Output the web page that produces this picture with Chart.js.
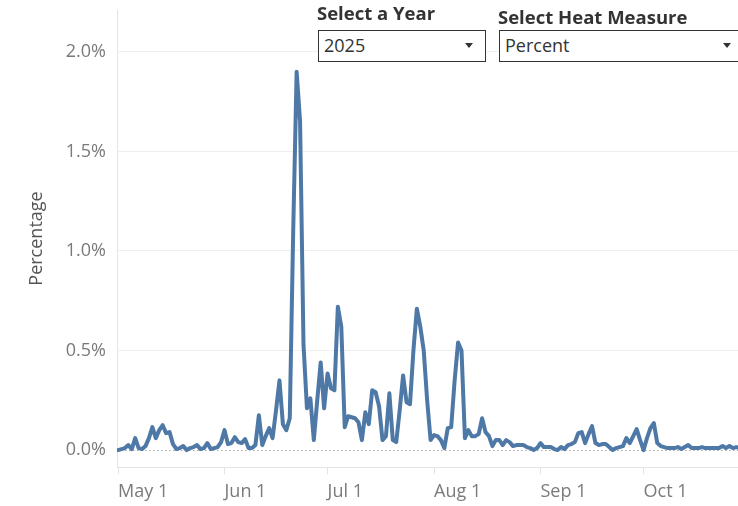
<!DOCTYPE html>
<html>
<head>
<meta charset="utf-8">
<script src="https://cdn.jsdelivr.net/npm/chart.js@4.4.1/dist/chart.umd.min.js"></script>
<style>
  html, body { margin: 0; padding: 0; background: #fff; }
  #wrap { position: relative; width: 738px; height: 506px; overflow: hidden; font-family: 'Open Sans', sans-serif; }
  #chart { position: absolute; left: 0; top: 0; }
  .param-title { position: absolute; font-weight: 700; font-size: 18.5px; line-height: 18.5px; color: #333; white-space: nowrap; }
  .param-box { position: absolute; top: 30px; height: 32px; box-sizing: border-box; border: 1.5px solid #333;
               background: #fff; font-size: 18px; line-height: 29px; color: #333; padding-left: 5px; }
  .caret { position: absolute; top: 12px; width: 0; height: 0; border-left: 4px solid transparent;
           border-right: 4px solid transparent; border-top: 5px solid #333; }
</style>
</head>
<body>
<div id="wrap">
  <canvas id="chart" width="738" height="506"></canvas>
  <div class="param-title" style="left:317px; top:4px;">Select a Year</div>
  <div class="param-box" style="left:318px; width:168px;">2025<div class="caret" style="right:12px;"></div></div>
  <div class="param-title" style="left:498px; top:8px;">Select Heat Measure</div>
  <div class="param-box" style="left:499px; width:246px;">Percent<div class="caret" style="right:13px;"></div></div>
</div>
<script>
// дневные значения, % (с 1 мая 2025)
const valuesMay = [0.0, 0.005, 0.01, 0.025, 0.005, 0.06, 0.01, 0.005, 0.02, 0.06, 0.115, 0.06, 0.1, 0.125, 0.085,
    0.09, 0.03, 0.005, 0.01, 0.02, 0.0, 0.01, 0.015, 0.025, 0.005, 0.01, 0.035, 0.005, 0.01, 0.015, 0.04];
const valuesJun = [0.1, 0.03, 0.035, 0.065, 0.04, 0.035, 0.055, 0.01, 0.01, 0.025, 0.175, 0.025, 0.07, 0.11, 0.06,
    0.2, 0.35, 0.13, 0.1, 0.16, 1.1, 1.9, 1.65, 0.53, 0.21, 0.26, 0.05, 0.25, 0.44, 0.21];
const valuesJul = [0.385, 0.31, 0.3, 0.72, 0.62, 0.115, 0.17, 0.165, 0.16, 0.14, 0.05, 0.19, 0.13, 0.3, 0.29,
    0.22, 0.05, 0.07, 0.285, 0.05, 0.04, 0.2, 0.375, 0.24, 0.23, 0.5, 0.71, 0.62, 0.5, 0.25, 0.05];
const valuesAug = [0.075, 0.07, 0.05, 0.01, 0.11, 0.115, 0.35, 0.54, 0.5, 0.06, 0.1, 0.07, 0.07, 0.08, 0.16,
    0.09, 0.07, 0.02, 0.05, 0.05, 0.025, 0.05, 0.04, 0.02, 0.025, 0.025, 0.025, 0.015, 0.01, 0.0, 0.01];
const valuesSep = [0.035, 0.015, 0.015, 0.015, 0.005, 0.0, 0.015, 0.005, 0.025, 0.03, 0.04, 0.085, 0.09, 0.035, 0.08,
    0.12, 0.035, 0.025, 0.03, 0.03, 0.015, 0.0, 0.01, 0.015, 0.02, 0.06, 0.035, 0.07, 0.105, 0.05];
const valuesOct = [0.0, 0.06, 0.11, 0.135, 0.035, 0.02, 0.015, 0.01, 0.01, 0.01, 0.015, 0.005, 0.015, 0.025, 0.01,
    0.01, 0.01, 0.015, 0.01, 0.01, 0.01, 0.01, 0.01, 0.02, 0.01, 0.02, 0.01, 0.015, 0.01, 0.01];

// подписи оси X: день от 1 мая -> текст
const monthTickDays = [0, 31, 61, 92, 123, 153];
const monthTickLabels = ["May 1", "Jun 1", "Jul 1", "Aug 1", "Sep 1", "Oct 1"];
const yTickValues = [0, 0.5, 1.0, 1.5, 2.0];

const allValues = [].concat(valuesMay, valuesJun, valuesJul, valuesAug, valuesSep, valuesOct);
const points = allValues.map((v, i) => ({ x: i, y: v }));

Chart.defaults.font.family = "'Open Sans', sans-serif";

/** Пунктирная нулевая линия, как в Tableau */
const zeroLine = {
    id: "zeroLine",
    beforeDatasetsDraw(chart) {
        const { ctx, chartArea, scales } = chart;
        const y = Math.round(scales.y.getPixelForValue(0)) + 0.5;
        ctx.save();
        ctx.strokeStyle = "#a9a9a9";
        ctx.lineWidth = 1;
        ctx.setLineDash([1.5, 2.5]);
        ctx.beginPath();
        ctx.moveTo(chartArea.left, y);
        ctx.lineTo(chartArea.right, y);
        ctx.stroke();
        ctx.restore();
    }
};

// убираем авто-отступы под подписи, чтобы область графика совпала с оригиналом
function noPad(s) {
    s.paddingTop = 0;
    s.paddingBottom = 0;
    s.paddingLeft = 0;
    s.paddingRight = 0;
}

new Chart(document.getElementById("chart").getContext("2d"), {
    type: "line",
    data: {
        datasets: [{
            data: points,
            borderColor: "#4e79a7",
            borderWidth: 4,
            borderJoinStyle: "round",
            borderCapStyle: "round",
            pointRadius: 0,
            tension: 0,
            fill: false
        }]
    },
    options: {
        responsive: false,
        animation: false,
        layout: { padding: { top: 10, right: 0, left: 0, bottom: 0 } },
        plugins: { legend: { display: false }, tooltip: { enabled: false } },
        scales: {
            x: {
                type: "linear",
                min: -0.3,
                max: 180.5,
                afterBuildTicks: (s) => { s.ticks = monthTickDays.map(v => ({ value: v })); },
                afterFit: (s) => { s.height = 39; noPad(s); },
                grid: { drawOnChartArea: false, drawTicks: true, tickLength: 7, tickColor: "#e4e4e4", color: "#e4e4e4" },
                border: { color: "#e4e4e4", width: 1 },
                ticks: {
                    align: "start",
                    padding: 7,
                    color: "#7a7a7a",
                    font: { size: 18 },
                    maxRotation: 0,
                    autoSkip: false,
                    callback: (v) => monthTickLabels[monthTickDays.indexOf(v)] ?? ""
                }
            },
            y: {
                min: -0.085,
                max: 2.21,
                afterBuildTicks: (s) => { s.ticks = yTickValues.map(v => ({ value: v })); },
                afterFit: (s) => { s.width = 117; noPad(s); },
                grid: {
                    drawTicks: false,
                    color: (c) => (c.tick && c.tick.value === 0 ? "rgba(0,0,0,0)" : "#efefef")
                },
                border: { color: "#e4e4e4", width: 1 },
                ticks: {
                    padding: 11,
                    color: "#7a7a7a",
                    font: { size: 18 },
                    callback: (v) => v.toFixed(1) + "%"
                },
                title: {
                    display: true,
                    text: "Percentage",
                    color: "#555",
                    font: { size: 18 },
                    padding: { top: 26, bottom: 0 }
                }
            }
        }
    },
    plugins: [zeroLine]
});
</script>
</body>
</html>
